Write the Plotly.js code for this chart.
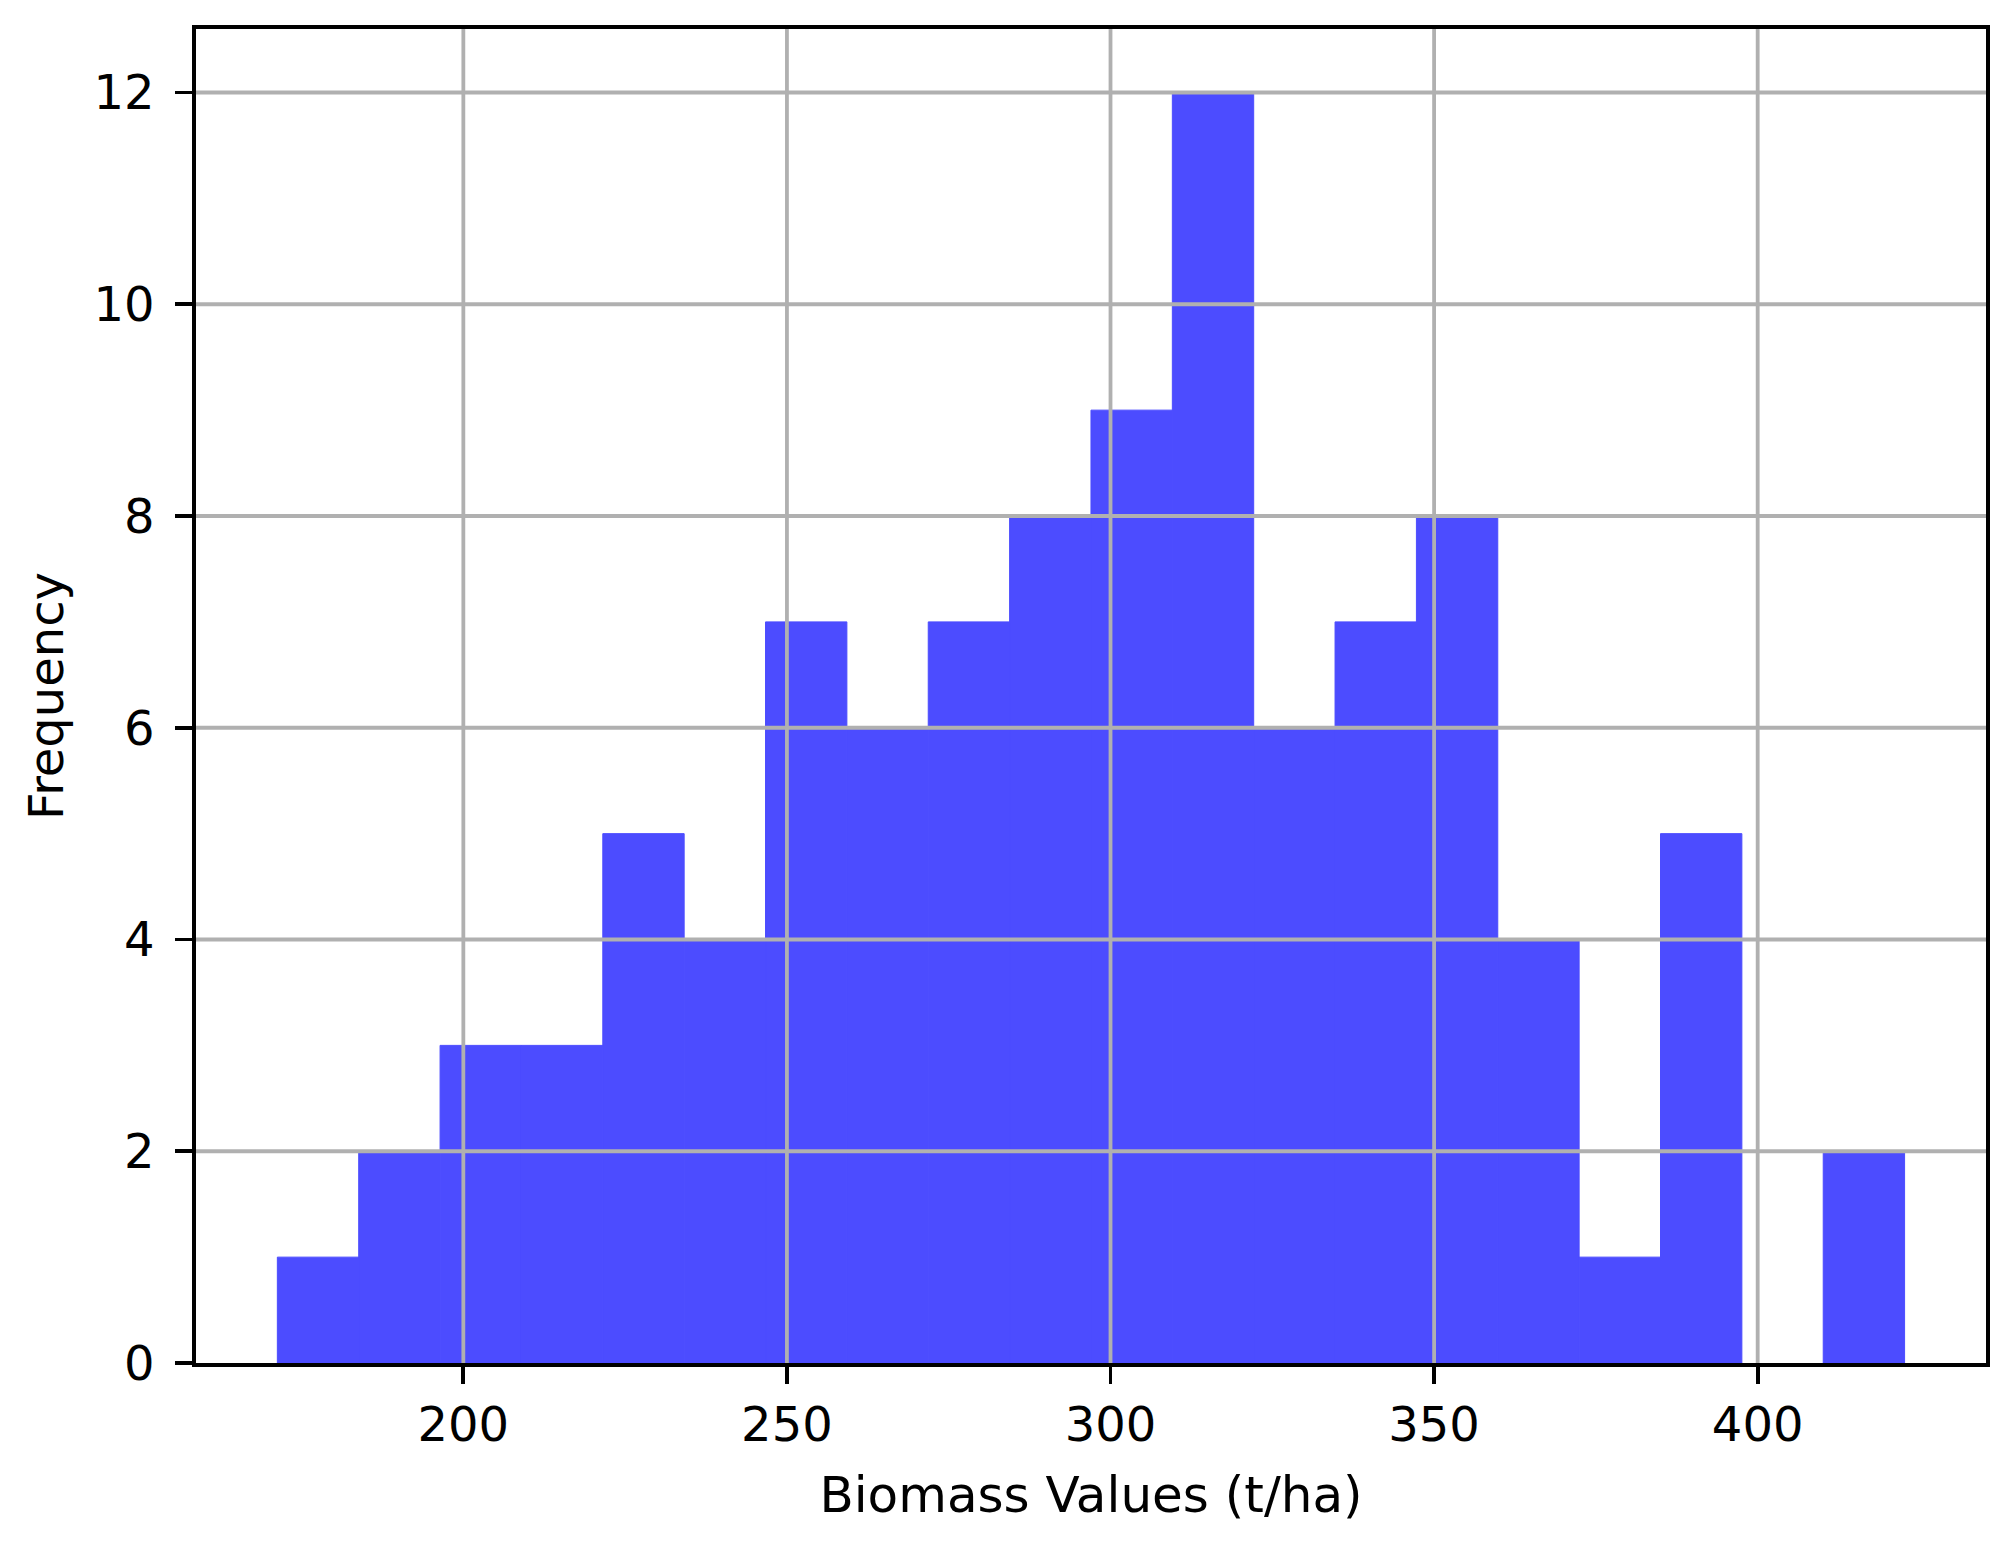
<!DOCTYPE html>
<html>
<head>
<meta charset="utf-8">
<script src="https://cdn.plot.ly/plotly-3.0.1.min.js"></script>
<style>
  html, body { margin: 0; padding: 0; background: #fff; }
  #chart { width: 2008px; height: 1545px; }
</style>
</head>
<body>
<div id="chart"></div>
<script>
// ── Histogram data (20 bins) ─────────────────────────────────
const binStart = 171.26;   // left edge of the first bin
const binWidth = 12.572;   // width of every bin
const counts   = [1, 2, 3, 3, 5, 4, 7, 6, 7, 8, 9, 12, 6, 7, 8, 4, 1, 5, 0, 2];

const xTicks = [200, 250, 300, 350, 400];
const yTicks = [0, 2, 4, 6, 8, 10, 12];

const xRange = [158.69, 435.28];
const yRange = [0, 12.6];

const FONT = "DejaVu Sans, Liberation Sans, sans-serif";
const GRID = "#b0b0b0";
const BAR  = "#4c4cff";   // blue at alpha 0.7 on white

// bin centres
const centers = counts.map((_, i) => binStart + (i + 0.5) * binWidth);

// grid lines sit above the bars, as in the source
const gridShapes = [
  ...xTicks.map(v => ({
    type: "line", layer: "above", xref: "x", yref: "paper",
    x0: v, x1: v, y0: 0, y1: 1,
    line: { color: GRID, width: 3.8 },
  })),
  ...yTicks.filter(v => v > 0).map(v => ({
    type: "line", layer: "above", xref: "paper", yref: "y",
    x0: 0, x1: 1, y0: v, y1: v,
    line: { color: GRID, width: 3.8 },
  })),
];

const axisCommon = {
  showgrid: false,
  zeroline: false,
  showline: true,
  mirror: true,
  linecolor: "#000",
  linewidth: 3.8,
  ticks: "outside",
  ticklen: 17,
  tickwidth: 3.8,
  tickcolor: "#000",
  tickfont: { family: FONT, size: 48, color: "#000" },
};

Plotly.newPlot("chart", [
  {
    type: "bar",
    x: centers,
    y: counts,
    width: counts.map(() => binWidth),
    // thin outline in the fill colour hides seams; none on empty bins
    marker: { color: BAR, line: { color: BAR, width: counts.map(c => (c > 0 ? 1 : 0)) } },
    hovertemplate: "%{x:.1f}<br>Frequency: %{y}<extra></extra>",
  },
], {
  width: 2008,
  height: 1545,
  margin: { l: 196, r: 22, t: 29, b: 182 },
  paper_bgcolor: "#fff",
  plot_bgcolor: "#fff",
  showlegend: false,
  font: { family: FONT, size: 48, color: "#000" },
  xaxis: {
    ...axisCommon,
    range: xRange,
    tickvals: xTicks,
    ticktext: xTicks.map(String),
    title: { text: "Biomass Values (t/ha)", font: { family: FONT, size: 50, color: "#000" }, standoff: 26 },
  },
  yaxis: {
    ...axisCommon,
    range: yRange,
    tickvals: yTicks,
    ticktext: yTicks.map(String),
    ticklabelstandoff: 11,
    title: { text: "Frequency", font: { family: FONT, size: 48, color: "#000" }, standoff: 16 },
  },
  shapes: gridShapes,
}, { displayModeBar: false, staticPlot: true });
</script>
</body>
</html>
